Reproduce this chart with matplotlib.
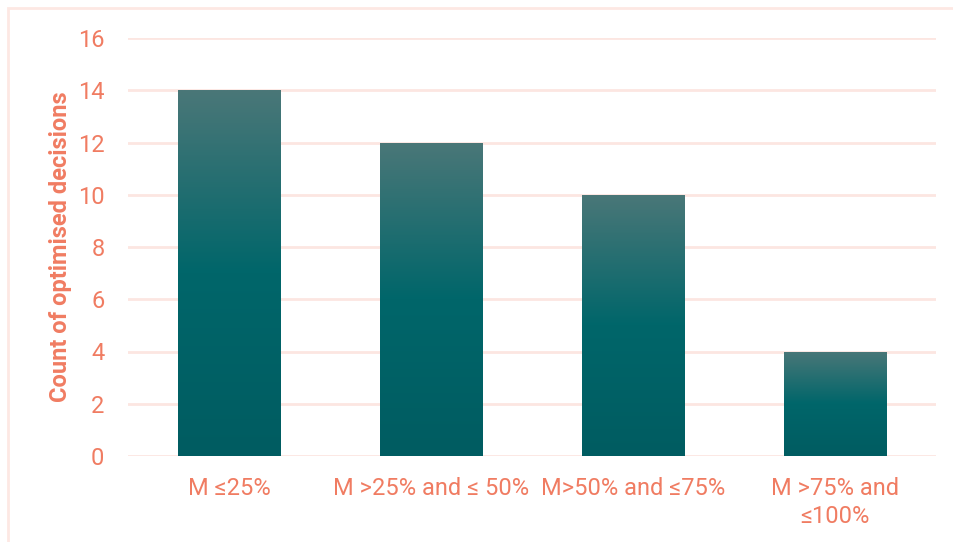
import matplotlib.pyplot as plt
import numpy as np
from matplotlib.colors import LinearSegmentedColormap
from matplotlib.patches import Rectangle
from matplotlib import font_manager

plt.rcParams['font.family'] = ['Roboto', 'DejaVu Sans']

categories = ["M ≤25%", "M >25% and ≤ 50%", "M>50% and ≤75%", "M >75% and\n≤100%"]
counts = [14, 12, 10, 4]
y_ticks = [0, 2, 4, 6, 8, 10, 12, 14, 16]

text_color = "#f07c62"
grid_color = "#fce6e1"
bar_cmap = LinearSegmentedColormap.from_list(
    "bar", [(0.0, "#005c61"), (0.5, "#00666a"), (1.0, "#4a7778")])

names = {f.name for f in font_manager.fontManager.ttflist}
narrow = ['Liberation Sans Narrow', 'Roboto', 'DejaVu Sans'] if 'Liberation Sans Narrow' in names else ['Roboto', 'DejaVu Sans']

fig = plt.figure(figsize=(9.54, 5.42), dpi=100)
ax = fig.add_axes([128 / 954, 1 - 456 / 542, 808 / 954, 418 / 542])

# frame around the chart, runs off the right and bottom edges
fig.patches.append(Rectangle((8 / 954, -0.05), 1.1, 1 - 8 / 542 + 0.05,
                             transform=fig.transFigure, fill=False,
                             edgecolor="#fde8e3", linewidth=2))

x = np.arange(len(categories))
bars = ax.bar(x, counts, width=0.505, color="none", zorder=2)
grad = np.linspace(0, 1, 256).reshape(-1, 1)
for b in bars:
    x0, y0 = b.get_x(), b.get_y()
    im = ax.imshow(grad, cmap=bar_cmap, origin="lower", aspect="auto",
                   extent=[x0, x0 + b.get_width(), y0, y0 + b.get_height()], zorder=2)
    im.set_clip_path(b)

ax.set_xlim(-0.5, len(categories) - 0.5)
ax.set_ylim(0, 16)
ax.set_yticks(y_ticks)
ax.yaxis.grid(True, color=grid_color, linewidth=2)
ax.set_axisbelow(True)
for s in ax.spines.values():
    s.set_visible(False)
ax.tick_params(axis="y", length=0, pad=17, labelsize=17, labelcolor=text_color)
ax.tick_params(axis="x", length=0, pad=15, labelsize=17, labelcolor=text_color)
ax.set_xticks(x)
ax.set_xticklabels(categories, family=narrow, linespacing=1.3)

ax.set_ylabel("Count of optimised decisions", color=text_color, fontsize=17,
              fontweight="bold", labelpad=4)

fig.savefig("out.png", dpi=100)
